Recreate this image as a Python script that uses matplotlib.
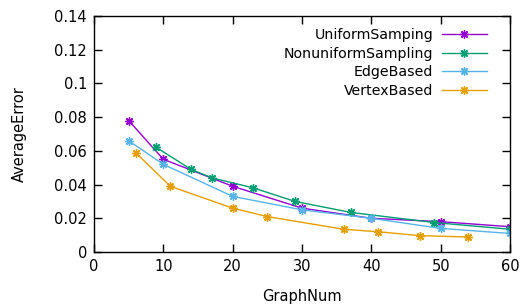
import numpy as np
from matplotlib import pyplot as plt

# data
uniform_x = [5, 10, 20, 30, 40, 50, 60]
uniform_y = [0.078, 0.055, 0.039, 0.026, 0.020, 0.018, 0.015]

nonuni_x = [9, 14, 17, 23, 29, 37, 49, 60]
nonuni_y = [0.062, 0.049, 0.044, 0.038, 0.030, 0.0235, 0.0175, 0.0135]

edge_x = [5, 10, 20, 30, 40, 50, 60]
edge_y = [0.066, 0.052, 0.033, 0.025, 0.020, 0.014, 0.011]

vertex_x = [6, 11, 20, 25, 36, 41, 47, 54]
vertex_y = [0.059, 0.039, 0.026, 0.021, 0.0135, 0.012, 0.0097, 0.0089]

labels = ['UniformSamping', 'NonuniformSampling', 'EdgeBased', 'VertexBased']
colors = ['#9400d3', '#009e73', '#56b4e9', '#e69f00']

plt.rcParams['font.family'] = ['DejaVu Sans']
plt.rcParams['font.size'] = 10.5

fig = plt.figure(figsize=(5.2, 3.07), dpi=100)
ax = fig.add_axes([94/520, 1-252/307, 416/520, 236/307])

series = [(uniform_x, uniform_y), (nonuni_x, nonuni_y),
          (edge_x, edge_y), (vertex_x, vertex_y)]
for (x, y), lab, c in zip(series, labels, colors):
	ax.plot(x, y, color=c, lw=1, marker=(8, 2, 0), ms=6, mew=1, label=lab)

ax.set_xlim(0, 60)
ax.set_ylim(0, 0.14)
ax.set_xticks(np.arange(0, 61, 10))
ax.set_yticks(np.arange(0, 0.141, 0.02))
ax.set_yticklabels(['0', '0.02', '0.04', '0.06', '0.08', '0.1', '0.12', '0.14'])
ax.tick_params(direction='in', top=True, right=True, length=6, width=1, pad=5)
for s in ax.spines.values():
	s.set_linewidth(1)

ax.set_xlabel('GraphNum', labelpad=11)
ax.set_ylabel('AverageError', labelpad=20)

ax.legend(loc='upper right', bbox_to_anchor=(0.958, 0.972), frameon=False,
          markerfirst=False, handlelength=3.2, labelspacing=0.32,
          handletextpad=0.6, borderaxespad=0, fontsize=10.2)

fig.savefig('out.png', dpi=100)
